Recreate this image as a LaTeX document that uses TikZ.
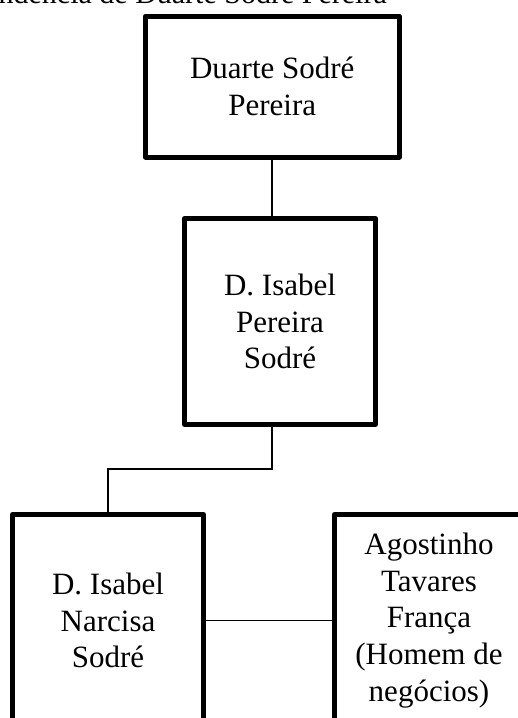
\documentclass[tikz,border=0pt]{standalone}
\usepackage{fontspec}
\setmainfont{Liberation Serif}
\begin{document}
\begin{tikzpicture}[x=1pt,y=-1pt,
  person/.style={draw=black, line width=5pt, line join=round, fill=white,
    rectangle, inner sep=0pt, outer sep=0pt, align=center,
    font=\fontsize{31}{36.6}\selectfont},
  link/.style={draw=black, line width=1.8pt}]
\fill[white] (0,0) rectangle (518,718);
\useasboundingbox (0,0) rectangle (518,718);
% title (clipped at top of page)
\node[anchor=base east, inner sep=0pt, font=\fontsize{30}{36}\selectfont] (title) at (387,3) {Descendência de Duarte Sodré Pereira};
% boxes
\node[person, minimum width=253.5pt, minimum height=141pt] (b1) at (272.25,86.5) {Duarte Sodré\\Pereira};
\node[person, minimum width=191pt, minimum height=206pt] (b2) at (280,321.5) {D. Isabel\\Pereira\\Sodré};
\node[person, minimum width=191pt, minimum height=212pt] (b3) at (108,620.5) {D. Isabel\\Narcisa\\Sodré};
\node[person, minimum width=189pt, minimum height=212pt] (b4) at (429,620.5) {Agostinho\\Tavares\\França\\(Homem de\\negócios)};
% connectors
\coordinate (elbow) at (0,469);
\draw[link] (b1.south) -- (b1.south |- b2.north);
\draw[link] (b2.south -| b1.south) -- (elbow -| b1.south) -- (elbow -| b3.north) -- (b3.north);
\draw[link] (b3.east) -- (b4.west);
\end{tikzpicture}
\end{document}
